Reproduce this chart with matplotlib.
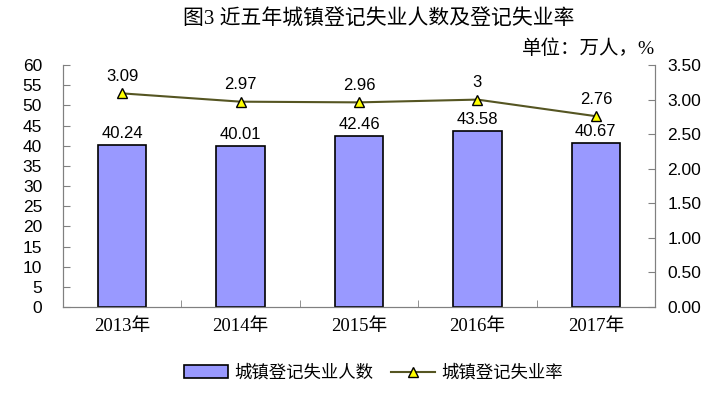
import matplotlib.pyplot as plt

years = ['2013年', '2014年', '2015年', '2016年', '2017年']
unemployed = [40.24, 40.01, 42.46, 43.58, 40.67]
rate = [3.09, 2.97, 2.96, 3.00, 2.76]
rate_labels = ['3.09', '2.97', '2.96', '3', '2.76']

plt.rcParams['font.family'] = ['Liberation Sans', 'Noto Sans CJK SC']
serif_cjk = ['Liberation Serif', 'Noto Sans CJK SC']

fig = plt.figure(figsize=(7.23, 3.99), dpi=100)
ax1 = fig.add_axes([0.0871, 0.2306, 0.8189, 0.6064])
x = list(range(len(years)))

bars = ax1.bar(x, unemployed, width=0.41, color='#9999FF', edgecolor='black',
               linewidth=1.2, label='城镇登记失业人数', zorder=2)
for xi, v in zip(x, unemployed):
    ax1.text(xi, v + 1.0, f'{v:.2f}', ha='center', va='bottom', fontsize=12)

ax1.set_xlim(-0.5, 4.5)
ax1.set_ylim(0, 60)
ax1.set_yticks(range(0, 61, 5))
ax1.set_xticks(x)
ax1.set_xticklabels(years, family=serif_cjk, fontsize=13.5)
ax1.set_xticks([0.5, 1.5, 2.5, 3.5], minor=True)
ax1.tick_params(axis='x', which='major', length=0, pad=8)
ax1.tick_params(axis='x', which='minor', direction='in', length=5, color='#808080')
ax1.tick_params(axis='y', direction='in', length=5, labelsize=12.5, color='#808080', pad=15)
for s in ['left', 'bottom', 'right']:
    ax1.spines[s].set_color('#808080')
ax1.spines['top'].set_visible(False)

ax2 = ax1.twinx()
line, = ax2.plot(x, rate, color='#555522', linewidth=1.5, marker='^', markersize=7,
                 markerfacecolor='#FFFF00', markeredgecolor='black', markeredgewidth=1,
                 label='城镇登记失业率', zorder=3)
for xi, v, t in zip(x, rate, rate_labels):
    ax2.text(xi, v + 0.14, t, ha='center', va='bottom', fontsize=12)
ax2.set_ylim(0, 3.5)
ax2.set_yticks([i * 0.5 for i in range(8)])
ax2.set_yticklabels([f'{i * 0.5:.2f}' for i in range(8)])
ax2.tick_params(axis='y', direction='in', length=5, labelsize=12.5, color='#808080', pad=9)
for s in ['left', 'bottom', 'right']:
    ax2.spines[s].set_color('#808080')
ax2.spines['top'].set_visible(False)

fig.text(0.524, 0.95, '图3 近五年城镇登记失业人数及登记失业率', ha='center', va='center',
         fontsize=15, family=serif_cjk)
fig.text(0.906, 0.877, '单位：万人，%', ha='right', va='center', fontsize=14,
         family=serif_cjk)

fig.legend([bars, line], ['城镇登记失业人数', '城镇登记失业率'], loc='center',
           bbox_to_anchor=(0.517, 0.067), ncol=2, frameon=False, fontsize=12.5,
           handlelength=2.5, columnspacing=1.0, handletextpad=0.4)

fig.savefig('out.png', dpi=100)
